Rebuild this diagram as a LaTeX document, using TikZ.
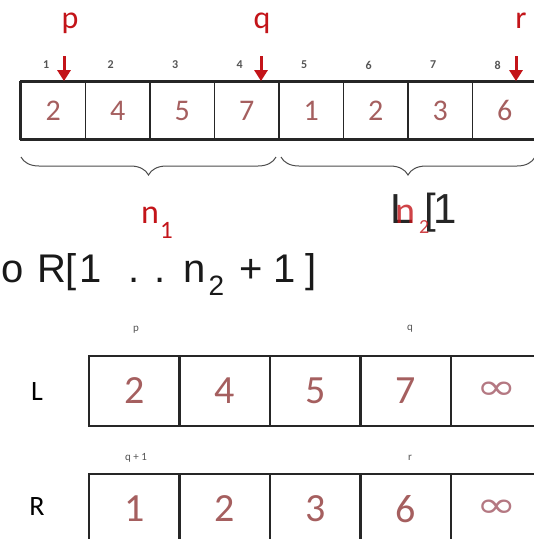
\documentclass[tikz,border=0pt]{standalone}
\usepackage{fontspec}
\setmainfont{Carlito}
\newfontfamily\widefont{Liberation Sans}
\newfontfamily\inffont{DejaVu Sans}
\usetikzlibrary{decorations.pathreplacing,arrows.meta}
\definecolor{numc}{RGB}{165,95,95}
\definecolor{infc}{RGB}{180,120,130}
\definecolor{redc}{RGB}{195,20,25}
\definecolor{idxc}{RGB}{85,85,85}
\begin{document}
\begin{tikzpicture}[x=1pt,y=-1pt,
  topcell/.style={draw=black!85,line width=1.8pt,minimum width=64.5pt,minimum height=57pt,inner sep=0pt,
    text=numc,font=\fontsize{30}{30}\selectfont},
  botcell/.style={draw=black!85,line width=2.2pt,minimum width=90.5pt,minimum height=70pt,inner sep=0pt,
    text=numc,font=\fontsize{40}{40}\selectfont},
  infcell/.style={botcell,text=infc,font=\inffont\fontsize{36}{36}\selectfont},
  idx/.style={text=idxc,font=\bfseries\fontsize{12}{12}\selectfont,inner sep=0pt},
  plab/.style={text=redc,font=\fontsize{32}{32}\selectfont,inner sep=0pt,anchor=base},
  redarrow/.style={draw=redc,line width=3pt,-{Triangle[length=11pt,width=13pt]}},
  bracest/.style={draw=black!70,line width=1pt,decorate,decoration={brace,mirror,amplitude=18pt}},
  small/.style={text=idxc,font=\fontsize{11}{11}\selectfont,inner sep=0pt},
  big/.style={font=\widefont\fontsize{40}{40}\selectfont,inner sep=0pt,anchor=base west}
]
\useasboundingbox (0,0) rectangle (534,539);
\clip (0,0) rectangle (534,539);
% top array
\foreach \v [count=\i] in {2,4,5,7,1,2,3,6}
  \node[topcell] (t\i) at ({21+64.5*(\i-0.5)},110.5) {\v};
\draw[line width=3pt,black!85] (t1.north west) -- (t8.north east);
\draw[line width=3pt,black!85] (t1.south west) -- (t8.south east);
\draw[line width=3pt,black!85] (t1.north west) -- (t1.south west);
% indices
\foreach \i in {1,...,8}
  \node[idx] (i\i) at ({21+64.5*(\i-0.5)-7},65) {\i};
% pointer labels and arrows
\node[plab] (lp) at (70,28) {p};
\node[plab] (lq) at (262,28) {q};
\node[plab] (lr) at (521,28) {r};
\coordinate (ap) at (64,56); \coordinate (aq) at (261,56); \coordinate (ar) at (516,56);
\draw[redarrow] (ap) -- (ap |- t1.north);
\draw[redarrow] (aq) -- (aq |- t4.north);
\draw[redarrow] (ar) -- (ar |- t8.north);
% braces
\coordinate (b1s) at (21,157); \coordinate (b1e) at (276,157);
\coordinate (b2s) at (281,157); \coordinate (b2e) at (535,157);
\draw[bracest] (b1s) -- (b1e);
\draw[bracest] (b2s) -- (b2e);
% labels under braces
\node[text=redc,font=\fontsize{34}{34}\selectfont,inner sep=0pt,anchor=base west] (n1) at (141,223)
  {n\hspace{1pt}\raisebox{-15pt}{\fontsize{25}{25}\selectfont 1}};
\node[font=\widefont\fontsize{42}{42}\selectfont,inner sep=0pt,anchor=base west,text=black!85] (lb) at (390,223)
  {L\hspace{11pt}[\hspace{-3pt}1};
\node[text=redc,font=\fontsize{38}{38}\selectfont,inner sep=0pt,anchor=base west,opacity=0.8] (n2) at (395,223)
  {n\hspace{4pt}\raisebox{-10pt}{\fontsize{20}{20}\selectfont 2}};
% text line
\node[big,text=black!90] (txt) at (1,282)
  {o\hspace{13.6pt}R[\hspace{2pt}1\hspace{27pt}.\hspace{14.9pt}.\hspace{18pt}n\hspace{3pt}\raisebox{-13pt}{\fontsize{28}{28}\selectfont 2}\hspace{15pt}+\hspace{11pt}1\hspace{10pt}]};
% bottom arrays
\foreach \v [count=\i] in {2,4,5,7}
  \node[botcell] (L\i) at ({89+90.5*(\i-0.5)},391) {\v};
\node[infcell] (L5) at ({89+90.5*4.5},391) {\scalebox{1.35}[1]{∞}};
\foreach \v [count=\i] in {1,2,3,6}
  \node[botcell] (R\i) at ({89+90.5*(\i-0.5)},509) {\v};
\node[infcell] (R5) at ({89+90.5*4.5},509) {\scalebox{1.35}[1]{∞}};
\node[font=\fontsize{28}{28}\selectfont,inner sep=0pt] (Llab) at (37,392) {L};
\node[font=\fontsize{28}{28}\selectfont,inner sep=0pt] (Rlab) at (37,507) {R};
\node[small] (sp) at (136,330) {p};
\node[small] (sq) at (410,329) {q};
\node[small] (sq1) at (136,458) {q + 1};
\node[small] (sr) at (410,458) {r};
\end{tikzpicture}
\end{document}
